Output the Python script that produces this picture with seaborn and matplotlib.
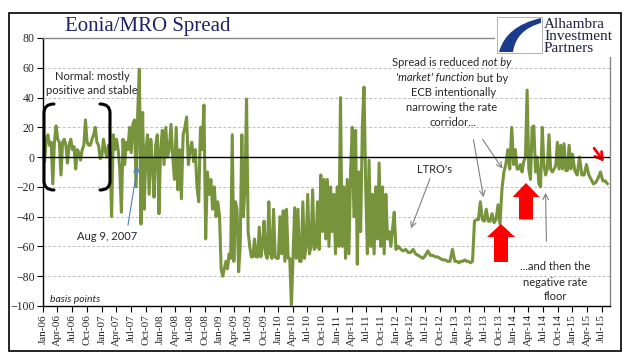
import matplotlib as mpl

mpl.use("Agg")
import matplotlib.pyplot as plt
import matplotlib.dates as mdates
from matplotlib.patches import Rectangle, Polygon, PathPatch
from matplotlib.path import Path
import seaborn as sns
import pandas as pd

sns.set_style("white")
plt.rcParams["font.family"] = "Liberation Serif"

W, H = 634, 361

# Eonia minus MRO (basis points)
spread_2006 = [5, -3, 12, 15, 8, 10, -18, 10, 21, 12, 10, -12, 10, 12, 8, -4, 8, 12,
               5, 7, -8, 5, 3, -2, 5, 8, 25, 10, 8, 8, 12, 15, 20, 10, 8, -1]
spread_2007 = [0, 12, 5, 0, 8, 3, -40, 15, 5, 12, 5, -8, -37, 12, -5, 10, 5, 20,
               3, 22, 25, -20, 30, 59, -45, 30, -35, 5, 15, -25, 12, -5, -27, 8, 15, -38]
spread_2008 = [5, 18, -5, 20, 0, 5, 22, 0, -15, 20, -22, 5, -28, 15, 20, 27, -5, 5,
               10, -3, 5, -20, -30, 20, 5, 35, -55, -10, -25, -15, -35, -20, -40, -30]
spread_2009 = [-40, -75, -80, -75, -70, -75, -65, -68, 15, -70, -30, -35, -77, -60, 15,
               -40, -20, 39, -50, -60, -67, -67, -55, -67, -67, -47, -67, -60, -43, -65,
               -68, -30, -65, -68, -35, -67, -68]
spread_2010 = [-68, -40, -65, -36, -70, -35, -68, -68, -100, -68, -34, -68, -35, -70,
               -70, -30, -68, -60, -25, -65, -60, -22, -62, -60, -30, -62, -12, -50,
               -15, -55, -15, -60, -20, -50, -25, -65]
spread_2011 = [-20, -60, 40, -60, -20, -68, -15, -65, -10, 20, -40, 18, -72, -10, -50,
               20, 47, -20, -65, -2, -60, -25, -65, -20, -55, -4, -60, -20, -65, -25,
               -55, -50, -60, -48, -37]
spread_2012 = [-62, -60, -62, -63, -62, -64, -64, -62, -65, -66, -67, -68, -66, -63,
               -66, -66, -67, -67, -68, -69, -69, -70, -70, -62]
spread_2013 = [-70, -70, -71, -70, -70, -69, -70, -70, -71, -70, -43, -42, -42, -30,
               -42, -43, -35, -43, -43, -38, -44, -42, -32, -45, -22, -10, -5, 5, -8, 20]
spread_2014 = [-5, 5, -8, -8, -5, -10, -3, 0, 45, -8, -15, 20, 21, -10, 0, -18, -20, 20,
               -5, -12, -8, 15, -8, -10, -8, -6, 10, -8, 8, -8, 9, -9, -9, 8, -8]
spread_2015 = [2, -9, -12, 0, -12, -12, -5, -12, -15, -18, -17, -14, -10, -16, -16, -18]

years = [2006, 2007, 2008, 2009, 2010, 2011, 2012, 2013, 2014, 2015]
yearly = [spread_2006, spread_2007, spread_2008, spread_2009, spread_2010,
          spread_2011, spread_2012, spread_2013, spread_2014, spread_2015]
last_day = "2015-08-21"

frames = []
for yr, vals in zip(years, yearly):
    end = f"{yr + 1}-01-01" if yr < 2015 else last_day
    d = pd.date_range(f"{yr}-01-01", end, periods=len(vals) + 1)[:-1]
    frames.append(pd.DataFrame({"date": d, "spread": vals}))
df = pd.concat(frames, ignore_index=True)


def fp(x, y):
    # pixel position (from top-left) -> figure fraction
    return x / W, 1 - y / H


fig = plt.figure(figsize=(W / 100, H / 100), dpi=100)
ax = fig.add_axes([43 / W, 1 - 306 / H, (610 - 43) / W, (306 - 38) / H])

sns.lineplot(data=df, x="date", y="spread", color="#77933C", lw=2.2, ax=ax, zorder=3)
ax.axhline(0, color="black", lw=1, zorder=4)

ax.set_ylim(-100, 80)
ax.set_xlim(pd.Timestamp("2006-01-01"), pd.Timestamp("2015-08-22"))
ax.set_yticks(range(-100, 81, 20))
ax.xaxis.set_major_locator(mdates.MonthLocator(bymonth=[1, 4, 7, 10]))
ax.xaxis.set_major_formatter(mdates.DateFormatter("%b-%y"))
ax.set(xlabel="", ylabel="")
ax.grid(axis="y", color="#BFBFBF", ls=(0, (3, 2)), lw=0.7)
ax.tick_params(axis="x", direction="out", length=4, width=0.8, color="black",
               rotation=90, labelsize=8, pad=2, bottom=True)
ax.tick_params(axis="y", direction="out", length=4, width=0.8, color="black",
               labelsize=8.5, pad=2, left=True)
for s in ["left", "bottom"]:
    ax.spines[s].set_color("black")
    ax.spines[s].set_linewidth(1)
for s in ["top", "right"]:
    ax.spines[s].set_color("#868686")
    ax.spines[s].set_linewidth(1)

# outer frame
fig.add_artist(Rectangle(fp(9, 351), (621 - 9) / W, (351 - 13) / H, transform=fig.transFigure,
                         fill=False, ec="black", lw=1.2))

fig.text(*fp(65, 31), "Eonia/MRO Spread", fontsize=15, color="#1F2366", va="baseline")

# logo
fig.add_artist(Rectangle(fp(495, 57), (619 - 495) / W, (57 - 15) / H, transform=fig.transFigure,
                         fc="white", ec="none", zorder=2))
fig.add_artist(Rectangle(fp(497, 53), (542 - 497) / W, (53 - 17) / H, transform=fig.transFigure,
                         fc="white", ec="#A6A6A6", lw=0.6, zorder=2.1))
swoosh = Path([fp(541, 18), fp(541, 23), fp(516, 30), fp(513, 52), fp(499, 52),
               fp(506, 26), fp(541, 18)],
              [Path.MOVETO, Path.LINETO, Path.CURVE3, Path.CURVE3, Path.LINETO,
               Path.CURVE3, Path.CURVE3])
fig.add_artist(PathPatch(swoosh, transform=fig.transFigure, fc="#1B3A8C", ec="none", zorder=2.2))
for txt, yy in [("Alhambra", 24), ("Investment", 36.5), ("Partners", 48.5)]:
    fig.text(*fp(544, yy), txt, fontsize=11, color="#1F2040", va="center", zorder=3)

sans = "Lato"
fs = 8
fig.text(*fp(92, 76), "Normal: mostly", family=sans, fontsize=fs, ha="center", va="center")
fig.text(*fp(92, 90), "positive and stable", family=sans, fontsize=fs, ha="center", va="center")


# brackets
def bracket(xv, xe, y0, y1):
    p = Path([fp(xe, y0), fp(xv, y0), fp(xv, y0 + 9), fp(xv, y1 - 9), fp(xv, y1), fp(xe, y1)],
             [Path.MOVETO, Path.CURVE3, Path.CURVE3, Path.LINETO, Path.CURVE3, Path.CURVE3])
    fig.add_artist(PathPatch(p, transform=fig.transFigure, fill=False, ec="black", lw=2.2,
                             capstyle="round"))


bracket(44, 54, 104, 190)
bracket(110, 100, 104, 190)

fig.text(*fp(107, 236), "Aug 9, 2007", family=sans, fontsize=fs, ha="center", va="center")
ax.annotate("", xy=fp(138, 163), xytext=fp(127.5, 228), xycoords="figure fraction",
            arrowprops=dict(arrowstyle="->", color="#4F81BD", lw=0.8))

fig.text(*fp(50, 299), "basis points", family=sans, fontsize=7.5, style="italic", va="center")

# corridor comment with italic pieces
renderer = fig.canvas.get_renderer()


def mixed_line(parts, xc, y):
    texts = [fig.text(0, 0, s, family=sans, fontsize=fs, style=st, va="center")
             for s, st in parts]
    widths = [t.get_window_extent(renderer).width for t in texts]
    x = xc - sum(widths) / 2
    for t, w in zip(texts, widths):
        t.set_position(fp(x, y))
        x += w


mixed_line([("Spread is reduced ", "normal"), ("not by", "italic")], 452, 63)
mixed_line([("'market' function", "italic"), (" but by", "normal")], 452, 78)
mixed_line([("ECB intentionally", "normal")], 454, 92)
mixed_line([("narrowing the rate", "normal")], 452, 107)
mixed_line([("corridor...", "normal")], 453, 122)

gray = dict(arrowstyle="->", color="#808080", lw=0.8)
ax.annotate("", xy=fp(484, 200), xytext=fp(473, 137), xycoords="figure fraction", arrowprops=gray)
ax.annotate("", xy=fp(504, 171), xytext=fp(481, 137), xycoords="figure fraction", arrowprops=gray)

fig.text(*fp(435, 170), "LTRO's", family=sans, fontsize=fs, ha="center", va="center")
ax.annotate("", xy=fp(410, 231), xytext=fp(431, 176), xycoords="figure fraction", arrowprops=gray)

for t, yy in [("...and then the", 267), ("negative rate", 282), ("floor", 297)]:
    fig.text(*fp(555, yy), t, family=sans, fontsize=fs, ha="center", va="center")
ax.annotate("", xy=fp(545.5, 190), xytext=fp(546.5, 244), xycoords="figure fraction", arrowprops=gray)

# red block arrows
for tip, hw, sw, hb, bot in [((501, 224), 14, 7, 237, 262), ((526, 183), 13.5, 7, 197, 219.5)]:
    cx, ty = tip
    pts = [fp(cx, ty), fp(cx - hw, hb), fp(cx - sw, hb), fp(cx - sw, bot), fp(cx + sw, bot),
           fp(cx + sw, hb), fp(cx + hw, hb)]
    fig.add_artist(Polygon(pts, closed=True, transform=fig.transFigure, fc="#FF0000", ec="none"))

ax.annotate("", xy=fp(605.5, 164), xytext=fp(592.5, 146), xycoords="figure fraction",
            arrowprops=dict(arrowstyle="->,head_length=0.5,head_width=0.3", color="#FF0000", lw=2))

fig.savefig("out.png", dpi=100)
